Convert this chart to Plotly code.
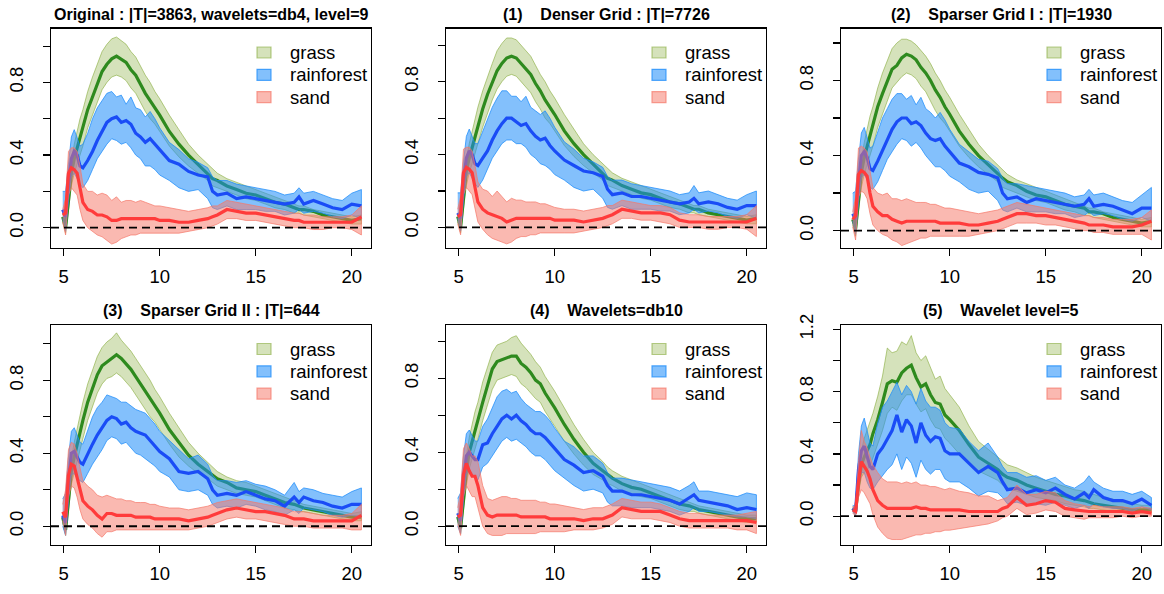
import plotly.graph_objects as go

# ---------------- data ----------------
X = [4.95, 5.1, 5.25, 5.4, 5.55, 5.7, 5.85, 6.0, 6.25, 6.5,
     6.75, 7.0, 7.25, 7.5, 7.75, 8.0, 8.25, 8.5, 8.75, 9.0,
     9.25, 9.5, 9.75, 10.0, 10.5, 11.0, 11.5, 12.0, 12.5, 12.75,
     13.0, 13.5, 14.0, 14.5, 15.0, 15.5, 16.0, 16.5, 17.0, 17.25,
     17.5, 18.0, 18.5, 19.0, 19.5, 20.0, 20.5]

TITLES = ["Original : |T|=3863, wavelets=db4, level=9",
          "(1)\u00a0\u00a0\u00a0\u00a0Denser Grid : |T|=7726",
          "(2)\u00a0\u00a0\u00a0\u00a0Sparser Grid I : |T|=1930",
          "(3)\u00a0\u00a0\u00a0\u00a0Sparser Grid II : |T|=644",
          "(4)\u00a0\u00a0\u00a0\u00a0Wavelets=db10",
          "(5)\u00a0\u00a0\u00a0\u00a0Wavelet level=5"]
SERIES = ["grass", "rainforest", "sand"]
X_TICKS = [5, 10, 15, 20]
Y_RANGES = [[-0.109, 1.097], [-0.11, 1.092], [-0.09, 1.077],
            [-0.10, 1.103], [-0.099, 1.088], [-0.182, 1.228]]
Y_TICK_TOP = [1.0, 1.0, 1.0, 1.0, 1.0, 1.2]

# --- Original ---
ORIG_GRASS_MEAN = [0.06, 0.00, 0.15, 0.30, 0.38, 0.44, 0.50, 0.55, 0.65, 0.72,
                   0.79, 0.86, 0.90, 0.93, 0.945, 0.93, 0.91, 0.87, 0.84, 0.79,
                   0.74, 0.70, 0.66, 0.62, 0.53, 0.46, 0.40, 0.35, 0.30, 0.27,
                   0.26, 0.23, 0.21, 0.19, 0.18, 0.16, 0.14, 0.13, 0.11, 0.10,
                   0.10, 0.09, 0.07, 0.06, 0.05, 0.04, 0.05]
ORIG_GRASS_HI = [0.08, 0.03, 0.20, 0.37, 0.46, 0.53, 0.60, 0.65, 0.75, 0.83,
                 0.90, 0.97, 1.01, 1.04, 1.05, 1.03, 1.01, 0.97, 0.94, 0.89,
                 0.84, 0.80, 0.75, 0.71, 0.62, 0.54, 0.46, 0.40, 0.35, 0.32,
                 0.30, 0.27, 0.25, 0.23, 0.21, 0.19, 0.17, 0.15, 0.13, 0.12,
                 0.12, 0.10, 0.09, 0.08, 0.07, 0.06, 0.07]
ORIG_GRASS_LO = [0.03, -0.03, 0.10, 0.23, 0.30, 0.35, 0.40, 0.45, 0.55, 0.62,
                 0.69, 0.76, 0.80, 0.83, 0.84, 0.83, 0.81, 0.77, 0.74, 0.69,
                 0.64, 0.60, 0.57, 0.53, 0.45, 0.39, 0.34, 0.30, 0.26, 0.23,
                 0.22, 0.20, 0.18, 0.16, 0.15, 0.13, 0.11, 0.10, 0.08, 0.08,
                 0.07, 0.06, 0.05, 0.04, 0.03, 0.02, 0.02]
ORIG_RAIN_MEAN = [0.10, 0.06, 0.25, 0.38, 0.42, 0.40, 0.34, 0.33, 0.37, 0.42,
                  0.48, 0.53, 0.58, 0.60, 0.61, 0.58, 0.59, 0.57, 0.52, 0.50,
                  0.47, 0.49, 0.46, 0.43, 0.37, 0.35, 0.31, 0.29, 0.28, 0.20,
                  0.18, 0.19, 0.16, 0.17, 0.16, 0.15, 0.14, 0.13, 0.14, 0.17,
                  0.13, 0.15, 0.13, 0.11, 0.10, 0.13, 0.12]
ORIG_RAIN_HI = [0.20, 0.20, 0.35, 0.50, 0.54, 0.50, 0.45, 0.46, 0.52, 0.60,
                0.66, 0.70, 0.74, 0.75, 0.72, 0.73, 0.68, 0.72, 0.66, 0.65,
                0.61, 0.64, 0.60, 0.55, 0.47, 0.43, 0.38, 0.36, 0.33, 0.28,
                0.26, 0.26, 0.24, 0.23, 0.22, 0.21, 0.20, 0.18, 0.19, 0.22,
                0.19, 0.20, 0.18, 0.16, 0.15, 0.19, 0.21]
ORIG_RAIN_LO = [0.05, -0.02, 0.15, 0.28, 0.30, 0.27, 0.24, 0.22, 0.26, 0.32,
                0.38, 0.42, 0.46, 0.49, 0.48, 0.46, 0.47, 0.44, 0.40, 0.38,
                0.34, 0.34, 0.32, 0.29, 0.26, 0.22, 0.20, 0.21, 0.16, 0.11,
                0.10, 0.12, 0.10, 0.10, 0.10, 0.09, 0.09, 0.07, 0.08, 0.10,
                0.08, 0.09, 0.08, 0.06, 0.05, 0.07, 0.05]
ORIG_SAND_MEAN = [0.07, 0.08, 0.30, 0.33, 0.32, 0.30, 0.22, 0.14, 0.10, 0.09,
                  0.07, 0.07, 0.06, 0.04, 0.04, 0.05, 0.05, 0.05, 0.05, 0.05,
                  0.05, 0.05, 0.05, 0.04, 0.04, 0.03, 0.03, 0.04, 0.05, 0.06,
                  0.07, 0.10, 0.09, 0.08, 0.08, 0.07, 0.06, 0.05, 0.04, 0.04,
                  0.03, 0.03, 0.03, 0.03, 0.03, 0.03, 0.06]
ORIG_SAND_HI = [0.10, 0.16, 0.42, 0.44, 0.44, 0.42, 0.34, 0.24, 0.20, 0.20,
                0.18, 0.19, 0.18, 0.15, 0.17, 0.14, 0.15, 0.15, 0.14, 0.15,
                0.14, 0.13, 0.12, 0.12, 0.11, 0.10, 0.09, 0.10, 0.11, 0.12,
                0.12, 0.15, 0.14, 0.13, 0.12, 0.11, 0.10, 0.09, 0.08, 0.08,
                0.07, 0.07, 0.06, 0.06, 0.06, 0.07, 0.12]
ORIG_SAND_LO = [0.03, -0.04, 0.18, 0.22, 0.20, 0.18, 0.10, 0.04, 0.00, -0.02,
                -0.04, -0.05, -0.07, -0.09, -0.08, -0.06, -0.05, -0.04, -0.04, -0.03,
                -0.03, -0.03, -0.03, -0.03, -0.03, -0.03, -0.02, -0.01, 0.00, 0.01,
                0.02, 0.05, 0.05, 0.04, 0.04, 0.03, 0.02, 0.01, 0.00, 0.00,
                0.00, -0.01, -0.01, 0.00, 0.00, -0.01, -0.04]

# --- (1) Denser grid ---
DENSE_GRASS_MEAN = [0.06, 0.00, 0.16, 0.31, 0.38, 0.44, 0.50, 0.56, 0.65, 0.73,
                    0.80, 0.86, 0.90, 0.93, 0.94, 0.93, 0.90, 0.87, 0.84, 0.79,
                    0.75, 0.70, 0.66, 0.62, 0.53, 0.46, 0.40, 0.35, 0.30, 0.27,
                    0.26, 0.23, 0.21, 0.19, 0.18, 0.16, 0.14, 0.13, 0.11, 0.10,
                    0.10, 0.08, 0.07, 0.06, 0.05, 0.04, 0.05]
DENSE_GRASS_HI = [0.08, 0.03, 0.20, 0.37, 0.46, 0.53, 0.60, 0.66, 0.75, 0.83,
                  0.90, 0.97, 1.01, 1.04, 1.04, 1.03, 1.00, 0.97, 0.94, 0.89,
                  0.84, 0.80, 0.75, 0.71, 0.62, 0.54, 0.46, 0.40, 0.35, 0.32,
                  0.30, 0.27, 0.25, 0.23, 0.21, 0.19, 0.17, 0.15, 0.13, 0.12,
                  0.12, 0.10, 0.09, 0.08, 0.07, 0.06, 0.07]
DENSE_GRASS_LO = [0.03, -0.03, 0.10, 0.23, 0.30, 0.35, 0.40, 0.46, 0.55, 0.63,
                  0.70, 0.76, 0.80, 0.83, 0.84, 0.83, 0.80, 0.77, 0.74, 0.69,
                  0.65, 0.60, 0.57, 0.53, 0.45, 0.39, 0.34, 0.30, 0.26, 0.23,
                  0.22, 0.20, 0.18, 0.16, 0.15, 0.13, 0.11, 0.10, 0.08, 0.08,
                  0.07, 0.06, 0.05, 0.04, 0.03, 0.02, 0.02]
DENSE_RAIN_MEAN = [0.08, 0.05, 0.26, 0.38, 0.42, 0.40, 0.35, 0.34, 0.38, 0.42,
                   0.48, 0.53, 0.57, 0.60, 0.60, 0.58, 0.56, 0.57, 0.53, 0.50,
                   0.48, 0.49, 0.45, 0.42, 0.37, 0.34, 0.31, 0.30, 0.28, 0.21,
                   0.18, 0.19, 0.17, 0.17, 0.16, 0.15, 0.14, 0.13, 0.14, 0.16,
                   0.13, 0.14, 0.13, 0.11, 0.10, 0.12, 0.12]
DENSE_RAIN_HI = [0.19, 0.19, 0.36, 0.50, 0.54, 0.50, 0.46, 0.46, 0.53, 0.60,
                 0.66, 0.71, 0.75, 0.75, 0.72, 0.72, 0.69, 0.72, 0.66, 0.64,
                 0.62, 0.64, 0.60, 0.55, 0.47, 0.43, 0.38, 0.36, 0.33, 0.28,
                 0.26, 0.26, 0.24, 0.23, 0.22, 0.21, 0.20, 0.18, 0.19, 0.23,
                 0.19, 0.20, 0.18, 0.16, 0.15, 0.18, 0.20]
DENSE_RAIN_LO = [0.05, -0.02, 0.15, 0.28, 0.30, 0.27, 0.24, 0.22, 0.26, 0.32,
                 0.38, 0.42, 0.46, 0.48, 0.48, 0.46, 0.46, 0.44, 0.40, 0.38,
                 0.35, 0.34, 0.32, 0.29, 0.26, 0.22, 0.20, 0.21, 0.16, 0.11,
                 0.10, 0.12, 0.10, 0.10, 0.10, 0.09, 0.09, 0.07, 0.08, 0.10,
                 0.08, 0.09, 0.08, 0.06, 0.05, 0.07, 0.05]
DENSE_SAND_MEAN = [0.06, 0.07, 0.30, 0.33, 0.32, 0.30, 0.22, 0.14, 0.10, 0.08,
                   0.07, 0.06, 0.05, 0.03, 0.04, 0.05, 0.05, 0.05, 0.05, 0.05,
                   0.05, 0.05, 0.05, 0.04, 0.04, 0.04, 0.03, 0.04, 0.05, 0.06,
                   0.07, 0.10, 0.09, 0.08, 0.08, 0.08, 0.07, 0.04, 0.03, 0.03,
                   0.03, 0.03, 0.03, 0.03, 0.03, 0.03, 0.05]
DENSE_SAND_HI = [0.10, 0.17, 0.43, 0.44, 0.44, 0.42, 0.34, 0.25, 0.21, 0.20,
                 0.17, 0.20, 0.17, 0.14, 0.16, 0.15, 0.15, 0.14, 0.14, 0.14,
                 0.13, 0.13, 0.12, 0.11, 0.10, 0.10, 0.09, 0.10, 0.11, 0.12,
                 0.12, 0.15, 0.14, 0.13, 0.12, 0.12, 0.11, 0.08, 0.07, 0.07,
                 0.07, 0.06, 0.06, 0.06, 0.06, 0.07, 0.12]
DENSE_SAND_LO = [0.02, -0.04, 0.18, 0.22, 0.20, 0.18, 0.10, 0.03, -0.01, -0.04,
                 -0.06, -0.07, -0.08, -0.09, -0.08, -0.06, -0.05, -0.05, -0.04, -0.04,
                 -0.03, -0.03, -0.03, -0.03, -0.03, -0.03, -0.02, -0.01, 0.00, 0.01,
                 0.02, 0.05, 0.05, 0.04, 0.04, 0.03, 0.02, 0.00, 0.00, 0.00,
                 0.00, -0.01, -0.01, 0.00, 0.00, -0.01, -0.05]

# --- (2) Sparser grid I ---
SPARSE1_GRASS_MEAN = [0.06, 0.01, 0.16, 0.31, 0.39, 0.45, 0.51, 0.56, 0.66, 0.73,
                      0.80, 0.86, 0.88, 0.92, 0.94, 0.93, 0.91, 0.87, 0.84, 0.80,
                      0.75, 0.71, 0.66, 0.62, 0.53, 0.46, 0.40, 0.35, 0.30, 0.28,
                      0.26, 0.24, 0.21, 0.19, 0.18, 0.16, 0.14, 0.13, 0.12, 0.10,
                      0.10, 0.09, 0.07, 0.06, 0.05, 0.04, 0.05]
SPARSE1_GRASS_HI = [0.08, 0.03, 0.21, 0.38, 0.47, 0.54, 0.61, 0.66, 0.76, 0.84,
                    0.91, 0.97, 1.00, 1.02, 1.02, 1.01, 0.99, 0.96, 0.93, 0.89,
                    0.84, 0.80, 0.75, 0.71, 0.62, 0.54, 0.46, 0.40, 0.35, 0.32,
                    0.30, 0.27, 0.25, 0.23, 0.21, 0.19, 0.17, 0.15, 0.13, 0.12,
                    0.12, 0.10, 0.09, 0.08, 0.07, 0.06, 0.07]
SPARSE1_GRASS_LO = [0.03, -0.03, 0.10, 0.23, 0.30, 0.35, 0.40, 0.45, 0.55, 0.62,
                    0.69, 0.76, 0.79, 0.82, 0.84, 0.83, 0.81, 0.77, 0.74, 0.69,
                    0.64, 0.60, 0.57, 0.53, 0.45, 0.39, 0.34, 0.30, 0.26, 0.23,
                    0.22, 0.20, 0.18, 0.16, 0.15, 0.13, 0.11, 0.10, 0.08, 0.08,
                    0.07, 0.06, 0.05, 0.04, 0.03, 0.02, 0.02]
SPARSE1_RAIN_MEAN = [0.09, 0.06, 0.26, 0.40, 0.42, 0.39, 0.33, 0.32, 0.37, 0.43,
                     0.49, 0.54, 0.58, 0.60, 0.60, 0.57, 0.58, 0.56, 0.52, 0.49,
                     0.48, 0.49, 0.45, 0.42, 0.36, 0.34, 0.31, 0.30, 0.28, 0.20,
                     0.17, 0.18, 0.15, 0.17, 0.16, 0.15, 0.14, 0.13, 0.14, 0.17,
                     0.13, 0.14, 0.13, 0.11, 0.09, 0.12, 0.12]
SPARSE1_RAIN_HI = [0.20, 0.21, 0.38, 0.52, 0.55, 0.50, 0.44, 0.45, 0.52, 0.60,
                   0.65, 0.70, 0.73, 0.73, 0.70, 0.72, 0.67, 0.71, 0.65, 0.63,
                   0.60, 0.63, 0.59, 0.54, 0.46, 0.42, 0.38, 0.37, 0.33, 0.28,
                   0.25, 0.25, 0.24, 0.23, 0.22, 0.21, 0.20, 0.18, 0.19, 0.22,
                   0.19, 0.20, 0.18, 0.16, 0.15, 0.19, 0.23]
SPARSE1_RAIN_LO = [0.05, -0.02, 0.15, 0.28, 0.30, 0.27, 0.23, 0.22, 0.26, 0.32,
                   0.38, 0.42, 0.46, 0.49, 0.48, 0.45, 0.47, 0.44, 0.40, 0.37,
                   0.34, 0.34, 0.32, 0.29, 0.26, 0.22, 0.20, 0.21, 0.16, 0.11,
                   0.10, 0.12, 0.10, 0.10, 0.10, 0.09, 0.09, 0.07, 0.08, 0.10,
                   0.08, 0.09, 0.08, 0.06, 0.05, 0.07, 0.05]
SPARSE1_SAND_MEAN = [0.06, 0.08, 0.30, 0.32, 0.31, 0.29, 0.20, 0.13, 0.10, 0.08,
                     0.08, 0.06, 0.05, 0.04, 0.05, 0.05, 0.05, 0.05, 0.05, 0.05,
                     0.05, 0.04, 0.04, 0.04, 0.04, 0.03, 0.03, 0.04, 0.05, 0.06,
                     0.07, 0.09, 0.09, 0.08, 0.08, 0.07, 0.06, 0.05, 0.04, 0.03,
                     0.03, 0.03, 0.02, 0.02, 0.02, 0.03, 0.05]
SPARSE1_SAND_HI = [0.10, 0.18, 0.44, 0.45, 0.44, 0.42, 0.32, 0.23, 0.20, 0.19,
                   0.20, 0.17, 0.17, 0.16, 0.17, 0.16, 0.15, 0.15, 0.15, 0.14,
                   0.14, 0.13, 0.12, 0.12, 0.11, 0.10, 0.09, 0.10, 0.11, 0.12,
                   0.13, 0.15, 0.14, 0.13, 0.12, 0.11, 0.10, 0.09, 0.08, 0.08,
                   0.07, 0.07, 0.06, 0.06, 0.06, 0.07, 0.11]
SPARSE1_SAND_LO = [0.02, -0.05, 0.18, 0.21, 0.20, 0.17, 0.09, 0.03, 0.00, -0.02,
                   -0.03, -0.05, -0.06, -0.08, -0.07, -0.06, -0.05, -0.04, -0.04, -0.03,
                   -0.03, -0.03, -0.03, -0.03, -0.03, -0.03, -0.02, -0.01, 0.00, 0.01,
                   0.02, 0.04, 0.04, 0.04, 0.03, 0.03, 0.02, 0.01, 0.00, 0.00,
                   -0.01, -0.01, -0.02, -0.02, -0.02, -0.02, -0.05]

# --- (3) Sparser grid II ---
SPARSE2_GRASS_MEAN = [0.05, -0.02, 0.14, 0.30, 0.38, 0.45, 0.52, 0.58, 0.68, 0.76,
                      0.83, 0.88, 0.90, 0.92, 0.94, 0.92, 0.89, 0.86, 0.82, 0.78,
                      0.74, 0.70, 0.66, 0.62, 0.53, 0.46, 0.39, 0.34, 0.30, 0.28,
                      0.26, 0.24, 0.21, 0.20, 0.19, 0.17, 0.15, 0.13, 0.12, 0.11,
                      0.10, 0.09, 0.08, 0.07, 0.06, 0.05, 0.05]
SPARSE2_GRASS_HI = [0.07, 0.02, 0.19, 0.37, 0.46, 0.54, 0.62, 0.68, 0.78, 0.86,
                    0.93, 0.98, 1.01, 1.03, 1.06, 1.02, 0.99, 0.96, 0.92, 0.88,
                    0.84, 0.80, 0.75, 0.71, 0.62, 0.54, 0.46, 0.40, 0.35, 0.32,
                    0.30, 0.27, 0.25, 0.24, 0.22, 0.20, 0.18, 0.16, 0.14, 0.13,
                    0.12, 0.11, 0.10, 0.09, 0.08, 0.07, 0.08]
SPARSE2_GRASS_LO = [0.02, -0.05, 0.09, 0.23, 0.30, 0.36, 0.42, 0.48, 0.58, 0.66,
                    0.73, 0.78, 0.81, 0.82, 0.84, 0.82, 0.79, 0.76, 0.72, 0.68,
                    0.64, 0.60, 0.57, 0.53, 0.45, 0.38, 0.33, 0.29, 0.26, 0.24,
                    0.22, 0.20, 0.18, 0.17, 0.16, 0.14, 0.12, 0.10, 0.09, 0.08,
                    0.08, 0.07, 0.06, 0.05, 0.04, 0.03, 0.03]
SPARSE2_RAIN_MEAN = [0.06, 0.02, 0.25, 0.40, 0.41, 0.38, 0.35, 0.34, 0.40, 0.45,
                     0.50, 0.54, 0.58, 0.60, 0.59, 0.56, 0.57, 0.54, 0.52, 0.51,
                     0.50, 0.47, 0.44, 0.41, 0.37, 0.30, 0.29, 0.30, 0.26, 0.20,
                     0.17, 0.18, 0.17, 0.19, 0.17, 0.15, 0.14, 0.11, 0.16, 0.13,
                     0.16, 0.14, 0.13, 0.11, 0.10, 0.12, 0.12]
SPARSE2_RAIN_HI = [0.15, 0.18, 0.38, 0.52, 0.54, 0.50, 0.46, 0.45, 0.52, 0.60,
                   0.65, 0.68, 0.72, 0.71, 0.70, 0.68, 0.68, 0.66, 0.64, 0.63,
                   0.62, 0.59, 0.56, 0.52, 0.47, 0.42, 0.37, 0.39, 0.34, 0.28,
                   0.25, 0.25, 0.24, 0.25, 0.23, 0.22, 0.20, 0.17, 0.24, 0.19,
                   0.21, 0.20, 0.18, 0.17, 0.16, 0.19, 0.21]
SPARSE2_RAIN_LO = [0.00, -0.05, 0.15, 0.28, 0.29, 0.26, 0.25, 0.24, 0.29, 0.34,
                   0.38, 0.42, 0.47, 0.49, 0.48, 0.45, 0.46, 0.43, 0.40, 0.39,
                   0.37, 0.35, 0.33, 0.30, 0.27, 0.20, 0.19, 0.20, 0.17, 0.12,
                   0.10, 0.11, 0.10, 0.12, 0.11, 0.09, 0.08, 0.06, 0.09, 0.07,
                   0.10, 0.09, 0.08, 0.06, 0.05, 0.06, 0.05]
SPARSE2_SAND_MEAN = [0.08, 0.05, 0.28, 0.34, 0.33, 0.27, 0.20, 0.14, 0.11, 0.09,
                     0.06, 0.04, 0.07, 0.07, 0.06, 0.06, 0.06, 0.06, 0.05, 0.05,
                     0.05, 0.05, 0.04, 0.04, 0.04, 0.04, 0.03, 0.04, 0.05, 0.06,
                     0.07, 0.09, 0.10, 0.09, 0.08, 0.08, 0.07, 0.06, 0.04, 0.04,
                     0.04, 0.03, 0.03, 0.03, 0.03, 0.03, 0.06]
SPARSE2_SAND_HI = [0.12, 0.20, 0.42, 0.46, 0.45, 0.40, 0.32, 0.25, 0.22, 0.20,
                   0.17, 0.16, 0.17, 0.16, 0.15, 0.15, 0.14, 0.14, 0.13, 0.13,
                   0.13, 0.12, 0.12, 0.11, 0.10, 0.10, 0.09, 0.10, 0.11, 0.12,
                   0.13, 0.14, 0.15, 0.14, 0.13, 0.12, 0.11, 0.10, 0.08, 0.08,
                   0.08, 0.07, 0.06, 0.06, 0.06, 0.07, 0.12]
SPARSE2_SAND_LO = [0.03, -0.05, 0.16, 0.22, 0.21, 0.16, 0.09, 0.04, 0.01, -0.01,
                   -0.04, -0.06, -0.03, -0.03, -0.02, -0.02, -0.02, -0.02, -0.02, -0.02,
                   -0.02, -0.02, -0.02, -0.02, -0.02, -0.02, -0.02, -0.01, 0.00, 0.01,
                   0.02, 0.04, 0.05, 0.04, 0.04, 0.03, 0.02, 0.01, 0.00, 0.00,
                   0.00, -0.01, -0.01, -0.01, -0.01, -0.02, -0.02]

# --- (4) Wavelets = db10 ---
DB10_GRASS_MEAN = [0.05, -0.01, 0.14, 0.30, 0.40, 0.46, 0.52, 0.57, 0.67, 0.76,
                   0.85, 0.89, 0.90, 0.91, 0.92, 0.92, 0.88, 0.86, 0.83, 0.79,
                   0.77, 0.72, 0.68, 0.64, 0.55, 0.47, 0.40, 0.34, 0.30, 0.28,
                   0.26, 0.23, 0.21, 0.20, 0.18, 0.16, 0.14, 0.12, 0.11, 0.10,
                   0.09, 0.08, 0.07, 0.06, 0.05, 0.04, 0.04]
DB10_GRASS_HI = [0.07, 0.02, 0.19, 0.38, 0.48, 0.55, 0.62, 0.67, 0.78, 0.86,
                 0.94, 0.98, 0.99, 1.00, 1.02, 1.03, 0.99, 0.96, 0.93, 0.89,
                 0.86, 0.81, 0.77, 0.73, 0.64, 0.55, 0.47, 0.40, 0.35, 0.32,
                 0.30, 0.27, 0.25, 0.23, 0.21, 0.19, 0.17, 0.15, 0.13, 0.12,
                 0.11, 0.10, 0.09, 0.08, 0.07, 0.06, 0.06]
DB10_GRASS_LO = [0.03, -0.04, 0.09, 0.22, 0.31, 0.37, 0.42, 0.47, 0.57, 0.66,
                 0.74, 0.79, 0.80, 0.81, 0.82, 0.81, 0.77, 0.75, 0.72, 0.69,
                 0.67, 0.62, 0.58, 0.54, 0.46, 0.39, 0.33, 0.28, 0.25, 0.23,
                 0.22, 0.19, 0.17, 0.16, 0.15, 0.13, 0.11, 0.09, 0.08, 0.08,
                 0.07, 0.06, 0.05, 0.04, 0.03, 0.02, 0.02]
DB10_RAIN_MEAN = [0.07, 0.03, 0.25, 0.38, 0.40, 0.38, 0.36, 0.36, 0.44, 0.45,
                  0.50, 0.54, 0.58, 0.60, 0.58, 0.60, 0.57, 0.55, 0.52, 0.50,
                  0.50, 0.48, 0.45, 0.42, 0.36, 0.33, 0.29, 0.30, 0.27, 0.22,
                  0.19, 0.19, 0.17, 0.17, 0.16, 0.15, 0.14, 0.12, 0.15, 0.17,
                  0.14, 0.13, 0.12, 0.11, 0.09, 0.10, 0.09]
DB10_RAIN_HI = [0.15, 0.18, 0.38, 0.50, 0.52, 0.49, 0.46, 0.46, 0.54, 0.58,
                0.64, 0.70, 0.73, 0.74, 0.72, 0.73, 0.69, 0.66, 0.64, 0.62,
                0.62, 0.60, 0.57, 0.53, 0.46, 0.43, 0.38, 0.38, 0.34, 0.29,
                0.26, 0.26, 0.25, 0.24, 0.23, 0.22, 0.21, 0.19, 0.22, 0.24,
                0.19, 0.19, 0.18, 0.17, 0.16, 0.18, 0.17]
DB10_RAIN_LO = [0.00, -0.04, 0.15, 0.28, 0.30, 0.28, 0.26, 0.25, 0.32, 0.34,
                0.38, 0.42, 0.46, 0.48, 0.46, 0.47, 0.45, 0.43, 0.40, 0.38,
                0.38, 0.36, 0.33, 0.30, 0.26, 0.22, 0.19, 0.20, 0.18, 0.13,
                0.11, 0.11, 0.10, 0.10, 0.10, 0.09, 0.08, 0.06, 0.08, 0.10,
                0.08, 0.08, 0.07, 0.06, 0.05, 0.05, 0.04]
DB10_SAND_MEAN = [0.05, 0.06, 0.28, 0.34, 0.30, 0.27, 0.27, 0.22, 0.10, 0.06,
                  0.05, 0.06, 0.06, 0.06, 0.06, 0.06, 0.05, 0.05, 0.05, 0.05,
                  0.05, 0.05, 0.04, 0.04, 0.04, 0.04, 0.03, 0.04, 0.04, 0.05,
                  0.06, 0.10, 0.09, 0.08, 0.08, 0.08, 0.06, 0.04, 0.03, 0.03,
                  0.03, 0.03, 0.03, 0.03, 0.03, 0.03, 0.02]
DB10_SAND_HI = [0.10, 0.18, 0.42, 0.45, 0.42, 0.38, 0.38, 0.35, 0.22, 0.15,
                0.14, 0.15, 0.16, 0.16, 0.15, 0.15, 0.14, 0.14, 0.14, 0.14,
                0.13, 0.13, 0.12, 0.12, 0.11, 0.10, 0.09, 0.10, 0.10, 0.11,
                0.12, 0.15, 0.14, 0.13, 0.13, 0.12, 0.10, 0.08, 0.07, 0.07,
                0.07, 0.06, 0.06, 0.06, 0.06, 0.07, 0.08]
DB10_SAND_LO = [0.01, -0.05, 0.16, 0.22, 0.19, 0.16, 0.16, 0.10, 0.00, -0.04,
                -0.05, -0.05, -0.05, -0.04, -0.04, -0.04, -0.04, -0.04, -0.04, -0.04,
                -0.03, -0.03, -0.03, -0.03, -0.03, -0.02, -0.02, -0.02, -0.01, 0.00,
                0.01, 0.05, 0.04, 0.04, 0.04, 0.03, 0.02, 0.00, -0.01, -0.01,
                -0.01, -0.01, -0.01, -0.01, -0.02, -0.02, -0.04]

# --- (5) Wavelet level = 5 ---
LEVEL5_GRASS_MEAN = [0.05, 0.03, 0.20, 0.33, 0.38, 0.42, 0.46, 0.53, 0.62, 0.73,
                     0.85, 0.87, 0.86, 0.92, 0.95, 0.97, 0.89, 0.83, 0.85, 0.78,
                     0.73, 0.72, 0.65, 0.62, 0.55, 0.46, 0.38, 0.34, 0.30, 0.27,
                     0.25, 0.23, 0.20, 0.18, 0.16, 0.14, 0.13, 0.11, 0.10, 0.09,
                     0.08, 0.07, 0.06, 0.05, 0.04, 0.04, 0.04]
LEVEL5_GRASS_HI = [0.06, 0.05, 0.25, 0.42, 0.50, 0.55, 0.60, 0.66, 0.77, 0.90,
                   1.08, 1.05, 1.06, 1.12, 1.10, 1.16, 1.05, 1.00, 1.03, 0.95,
                   0.88, 0.90, 0.82, 0.78, 0.70, 0.58, 0.48, 0.43, 0.38, 0.35,
                   0.33, 0.31, 0.28, 0.25, 0.23, 0.21, 0.19, 0.17, 0.16, 0.14,
                   0.14, 0.12, 0.11, 0.09, 0.08, 0.07, 0.07]
LEVEL5_GRASS_LO = [0.03, 0.01, 0.15, 0.25, 0.28, 0.30, 0.32, 0.38, 0.46, 0.55,
                   0.66, 0.70, 0.68, 0.74, 0.78, 0.78, 0.72, 0.67, 0.69, 0.62,
                   0.57, 0.56, 0.50, 0.47, 0.40, 0.34, 0.29, 0.26, 0.23, 0.20,
                   0.18, 0.16, 0.14, 0.12, 0.11, 0.10, 0.08, 0.07, 0.06, 0.05,
                   0.05, 0.04, 0.03, 0.03, 0.02, 0.02, 0.02]
LEVEL5_RAIN_MEAN = [0.05, 0.03, 0.30, 0.42, 0.45, 0.38, 0.32, 0.30, 0.40, 0.44,
                    0.50, 0.55, 0.65, 0.54, 0.62, 0.58, 0.47, 0.60, 0.52, 0.48,
                    0.51, 0.50, 0.42, 0.40, 0.40, 0.34, 0.28, 0.32, 0.28, 0.22,
                    0.17, 0.18, 0.15, 0.17, 0.15, 0.18, 0.14, 0.11, 0.15, 0.12,
                    0.17, 0.12, 0.10, 0.10, 0.08, 0.11, 0.07]
LEVEL5_RAIN_HI = [0.07, 0.06, 0.40, 0.58, 0.63, 0.55, 0.47, 0.45, 0.60, 0.70,
                  0.74, 0.80, 0.86, 0.78, 0.84, 0.80, 0.72, 0.82, 0.74, 0.70,
                  0.70, 0.68, 0.60, 0.57, 0.56, 0.48, 0.42, 0.47, 0.38, 0.32,
                  0.28, 0.28, 0.25, 0.26, 0.23, 0.25, 0.20, 0.18, 0.22, 0.26,
                  0.22, 0.18, 0.16, 0.16, 0.14, 0.16, 0.12]
LEVEL5_RAIN_LO = [0.03, 0.00, 0.20, 0.28, 0.28, 0.22, 0.18, 0.17, 0.22, 0.26,
                  0.30, 0.33, 0.40, 0.30, 0.38, 0.34, 0.25, 0.36, 0.30, 0.27,
                  0.30, 0.30, 0.24, 0.22, 0.22, 0.18, 0.13, 0.16, 0.15, 0.12,
                  0.08, 0.09, 0.07, 0.08, 0.07, 0.09, 0.07, 0.05, 0.07, 0.05,
                  0.08, 0.06, 0.05, 0.05, 0.03, 0.06, 0.04]
LEVEL5_SAND_MEAN = [0.04, 0.03, 0.22, 0.35, 0.32, 0.29, 0.24, 0.17, 0.10, 0.07,
                    0.05, 0.05, 0.05, 0.05, 0.05, 0.05, 0.06, 0.05, 0.05, 0.04,
                    0.04, 0.04, 0.04, 0.04, 0.04, 0.03, 0.03, 0.03, 0.03, 0.05,
                    0.06, 0.12, 0.07, 0.08, 0.10, 0.09, 0.05, 0.04, 0.03, 0.03,
                    0.03, 0.03, 0.03, 0.03, 0.02, 0.03, 0.02]
LEVEL5_SAND_HI = [0.06, 0.06, 0.35, 0.55, 0.48, 0.44, 0.38, 0.33, 0.28, 0.24,
                  0.22, 0.22, 0.22, 0.21, 0.22, 0.21, 0.22, 0.20, 0.20, 0.19,
                  0.19, 0.18, 0.17, 0.18, 0.16, 0.15, 0.13, 0.13, 0.10, 0.11,
                  0.12, 0.20, 0.14, 0.14, 0.16, 0.15, 0.10, 0.08, 0.07, 0.06,
                  0.07, 0.06, 0.06, 0.06, 0.05, 0.06, 0.05]
LEVEL5_SAND_LO = [0.02, 0.00, 0.12, 0.17, 0.15, 0.12, 0.08, 0.01, -0.07, -0.11,
                  -0.14, -0.15, -0.15, -0.15, -0.14, -0.13, -0.12, -0.12, -0.11, -0.11,
                  -0.10, -0.10, -0.09, -0.09, -0.08, -0.07, -0.06, -0.05, -0.03, -0.01,
                  0.00, 0.05, 0.01, 0.02, 0.04, 0.03, 0.00, -0.01, -0.02, -0.01,
                  -0.01, -0.01, -0.01, 0.00, -0.01, 0.00, 0.00]

PANELS = [
    [(ORIG_GRASS_MEAN, ORIG_GRASS_LO, ORIG_GRASS_HI), (ORIG_RAIN_MEAN, ORIG_RAIN_LO, ORIG_RAIN_HI), (ORIG_SAND_MEAN, ORIG_SAND_LO, ORIG_SAND_HI)],
    [(DENSE_GRASS_MEAN, DENSE_GRASS_LO, DENSE_GRASS_HI), (DENSE_RAIN_MEAN, DENSE_RAIN_LO, DENSE_RAIN_HI), (DENSE_SAND_MEAN, DENSE_SAND_LO, DENSE_SAND_HI)],
    [(SPARSE1_GRASS_MEAN, SPARSE1_GRASS_LO, SPARSE1_GRASS_HI), (SPARSE1_RAIN_MEAN, SPARSE1_RAIN_LO, SPARSE1_RAIN_HI), (SPARSE1_SAND_MEAN, SPARSE1_SAND_LO, SPARSE1_SAND_HI)],
    [(SPARSE2_GRASS_MEAN, SPARSE2_GRASS_LO, SPARSE2_GRASS_HI), (SPARSE2_RAIN_MEAN, SPARSE2_RAIN_LO, SPARSE2_RAIN_HI), (SPARSE2_SAND_MEAN, SPARSE2_SAND_LO, SPARSE2_SAND_HI)],
    [(DB10_GRASS_MEAN, DB10_GRASS_LO, DB10_GRASS_HI), (DB10_RAIN_MEAN, DB10_RAIN_LO, DB10_RAIN_HI), (DB10_SAND_MEAN, DB10_SAND_LO, DB10_SAND_HI)],
    [(LEVEL5_GRASS_MEAN, LEVEL5_GRASS_LO, LEVEL5_GRASS_HI), (LEVEL5_RAIN_MEAN, LEVEL5_RAIN_LO, LEVEL5_RAIN_HI), (LEVEL5_SAND_MEAN, LEVEL5_SAND_LO, LEVEL5_SAND_HI)],
]
for pi, panel in enumerate(PANELS):
    for si, trip in enumerate(panel):
        for arr in trip:
            assert len(arr) == len(X), (pi, si, len(arr))

# ---------------- styling ----------------
FONT = "Liberation Sans, Arial, Helvetica, sans-serif"
FILL = {"grass": "rgba(125,165,45,0.32)", "rainforest": "rgba(30,140,250,0.55)", "sand": "rgba(245,120,105,0.52)"}
EDGE = {"grass": "rgba(125,165,45,0.55)", "rainforest": "rgba(30,140,250,0.75)", "sand": "rgba(245,120,105,0.7)"}
LINE = {"grass": "#2e8a1e", "rainforest": "#1a4cf6", "sand": "#ff3b3b"}

W, H = 1164, 594
COLS = [(51, 371), (446, 766), (841, 1161)]
ROWS = [(28.5, 247.5), (325, 544.5)]
XRANGE = [4.34, 21.0]


def pxx(v):
    return v / W


def pxy(v):
    return 1 - v / H


fig = go.Figure()
shapes = []
annotations = []
layout = {}

for i, panel in enumerate(PANELS):
    r, c = divmod(i, 3)
    sfx = "" if i == 0 else str(i + 1)
    xa, ya = "x" + sfx, "y" + sfx
    (l, rr), (t, b) = COLS[c], ROWS[r]

    for name, (mean, lo, hi) in zip(SERIES, panel):
        fig.add_trace(go.Scatter(
            x=X + X[::-1], y=hi + lo[::-1], mode="lines", fill="toself",
            fillcolor=FILL[name], line=dict(color=EDGE[name], width=1),
            xaxis=xa, yaxis=ya, showlegend=False, hoverinfo="skip"))
        fig.add_trace(go.Scatter(
            x=X, y=mean, mode="lines", line=dict(color=LINE[name], width=3.2),
            xaxis=xa, yaxis=ya, showlegend=False, name=name))

    top = Y_TICK_TOP[i]
    n = int(round(top / 0.2))
    yt = [round(k * 0.2, 1) for k in range(n + 1)]
    ytxt = ["%.1f" % v if k % 2 == 0 else "" for k, v in enumerate(yt)]

    common = dict(ticks="outside", ticklen=7, tickwidth=1.2, tickcolor="black",
                  showline=True, mirror=True, linecolor="black", linewidth=1.3,
                  showgrid=False, zeroline=False, automargin=False,
                  tickfont=dict(size=18.5, color="black", family=FONT))
    layout["xaxis" + sfx] = dict(domain=[pxx(l), pxx(rr)], range=XRANGE, anchor=ya,
                                 tickvals=X_TICKS, ticktext=[str(v) for v in X_TICKS],
                                 ticklabelstandoff=5, **common)
    layout["yaxis" + sfx] = dict(domain=[pxy(b), pxy(t)], range=Y_RANGES[i], anchor=xa,
                                 tickvals=yt, ticktext=ytxt, tickangle=-90,
                                 ticklabelstandoff=12, **common)

    # dashed zero line
    shapes.append(dict(type="line", xref=xa + " domain", x0=0, x1=1, yref=ya, y0=0, y1=0,
                       line=dict(color="black", width=1.8, dash="8px,5px"), layer="above"))

    # title
    annotations.append(dict(text="<b>" + TITLES[i] + "</b>", x=pxx((l + rr) / 2), y=pxy(t - 14.5),
                            xref="paper", yref="paper", xanchor="center", yanchor="middle",
                            showarrow=False, font=dict(size=16, color="black", family=FONT)))

    # legend
    for k, name in enumerate(SERIES):
        cy = t + 24 + 22.3 * k
        shapes.append(dict(type="rect", xref="paper", yref="paper",
                           x0=pxx(rr - 114), x1=pxx(rr - 100), y0=pxy(cy + 5.5), y1=pxy(cy - 5.5),
                           fillcolor=FILL[name], line=dict(color=EDGE[name], width=1.2), layer="above"))
        annotations.append(dict(text=name, x=pxx(rr - 83), y=pxy(cy), xref="paper", yref="paper",
                                xanchor="left", yanchor="middle", showarrow=False,
                                font=dict(size=18.5, color="black", family=FONT)))

fig.update_layout(
    width=W, height=H, margin=dict(l=0, r=0, t=0, b=0, pad=0, autoexpand=False),
    paper_bgcolor="white", plot_bgcolor="white",
    shapes=shapes, annotations=annotations, showlegend=False,
    font=dict(family=FONT, color="black"),
    **layout)

fig.write_html("out.html",
               config={"displayModeBar": False, "staticPlot": True},
               post_script="document.body.style.margin='0px';document.body.style.overflow='hidden';")
